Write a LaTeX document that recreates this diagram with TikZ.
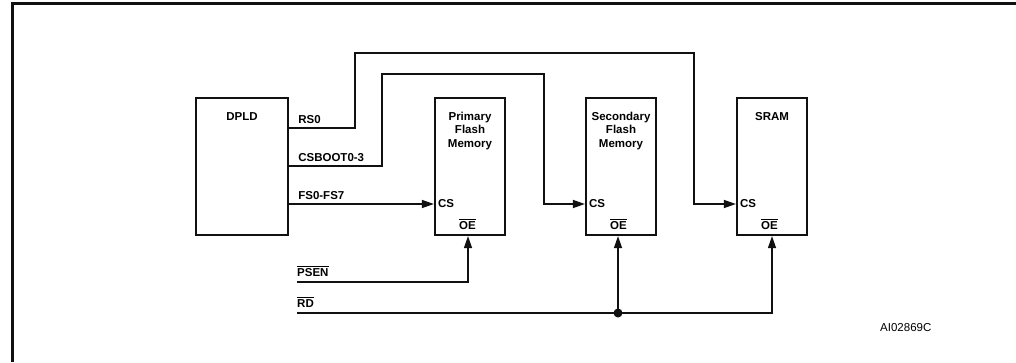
\documentclass[tikz,border=0pt]{standalone}
\usepackage{fontspec}
\setmainfont{Liberation Sans}
\usetikzlibrary{arrows.meta,positioning,calc}
\definecolor{ink}{HTML}{111111}
\newcommand{\barsig}[1]{\leavevmode\vbox{\hrule height .9pt\kern1.3pt\hbox{#1}}}

\begin{document}
\begin{tikzpicture}[x=1pt,y=-1pt,
  blk/.style={draw=ink,line width=2.2pt,minimum width=70pt,minimum height=137pt,inner sep=0pt},
  ttl/.style={anchor=north,align=center,inner sep=0pt,font=\fontsize{11.5}{13.5}\selectfont\bfseries},
  lbl/.style={anchor=base west,inner sep=0pt,font=\fontsize{11.5}{13.5}\selectfont\bfseries},
  pinl/.style={anchor=west,inner sep=0pt,font=\fontsize{11.5}{13.5}\selectfont\bfseries},
  sig/.style={draw=ink,line width=1.5pt},
  sigarrow/.style={-{Triangle[length=12pt,width=8pt]}}]
\useasboundingbox (0,0) rectangle (1016,362);
\draw[draw=ink,line width=3pt] (12,362) -- (12,3) -- (1016,3);
% blocks
\node[blk,minimum width=92pt] (dpld) at (242,166.5) {};
\node[blk] (pflash) at (470,166.5) {};
\node[blk] (sflash) at (621,166.5) {};
\node[blk] (sram) at (772,166.5) {};
\node[ttl] (dpldt) at ([yshift=-15pt]dpld.north) {DPLD};
\node[ttl] (pflasht) at ([yshift=-15pt]pflash.north) {Primary\\Flash\\Memory};
\node[ttl] (sflasht) at ([yshift=-15pt]sflash.north) {Secondary\\Flash\\Memory};
\node[ttl] (sramt) at ([yshift=-15pt]sram.north) {SRAM};
% pins
\node[pinl] (pflashcs) at ([shift={(4,37.5)}]pflash.west) {CS};
\node[pinl] (sflashcs) at ([shift={(4,37.5)}]sflash.west) {CS};
\node[pinl] (sramcs) at ([shift={(4,37.5)}]sram.west) {CS};
\node[lbl] (pflashoe) at ([shift={(25,-7)}]pflash.south west) {\barsig{OE}};
\node[lbl] (sflashoe) at ([shift={(25,-7)}]sflash.south west) {\barsig{OE}};
\node[lbl] (sramoe) at ([shift={(25,-7)}]sram.south west) {\barsig{OE}};
% dpld outputs
\coordinate (rsout) at ([shift={(0,31)}]dpld.north east);
\coordinate (csout) at ([shift={(0,69)}]dpld.north east);
\coordinate (fsout) at (dpld.east |- pflashcs);
\node[lbl] (rslbl) at ([shift={(9,-4)}]rsout) {RS0};
\node[lbl] (cslbl) at ([shift={(9,-4)}]csout) {CSBOOT0-3};
\node[lbl] (fslbl) at ([shift={(9,-5)}]fsout) {FS0-FS7};
\coordinate (rsup) at (355,53);
\coordinate (rsdn) at (694,204);
\coordinate (csup) at (382,74);
\coordinate (csdn) at (544,204);
\draw[sig,sigarrow] (fsout) -- (pflash.west |- pflashcs);
\draw[sig,sigarrow] (csout) -| (csup) -| (csdn) -- (sflash.west |- sflashcs);
\draw[sig,sigarrow] (rsout) -| (rsup) -| (rsdn) -- (sram.west |- sramcs);
% strobes
\coordinate (psen) at (297,282);
\coordinate (rd) at (297,313);
\node[lbl] (psenlbl) at ([yshift=6pt]psen) {\barsig{PSEN}};
\node[lbl] (rdlbl) at ([yshift=6pt]rd) {\barsig{RD}};
\coordinate (rdjoin) at ([xshift=-3pt]sflash.south |- rd);
\draw[sig,sigarrow] (psen) -| ([xshift=-2pt]pflash.south);
\draw[sig,sigarrow] (rd) -| (sram.south);
\draw[sig,sigarrow] (rdjoin) -- ([xshift=-3pt]sflash.south);
\fill[ink] (rdjoin) circle (4.5pt);
\node[anchor=base west,inner sep=0pt,font=\fontsize{11.5}{13.5}\selectfont] (figid) at (880,331) {AI02869C};
\end{tikzpicture}
\end{document}
